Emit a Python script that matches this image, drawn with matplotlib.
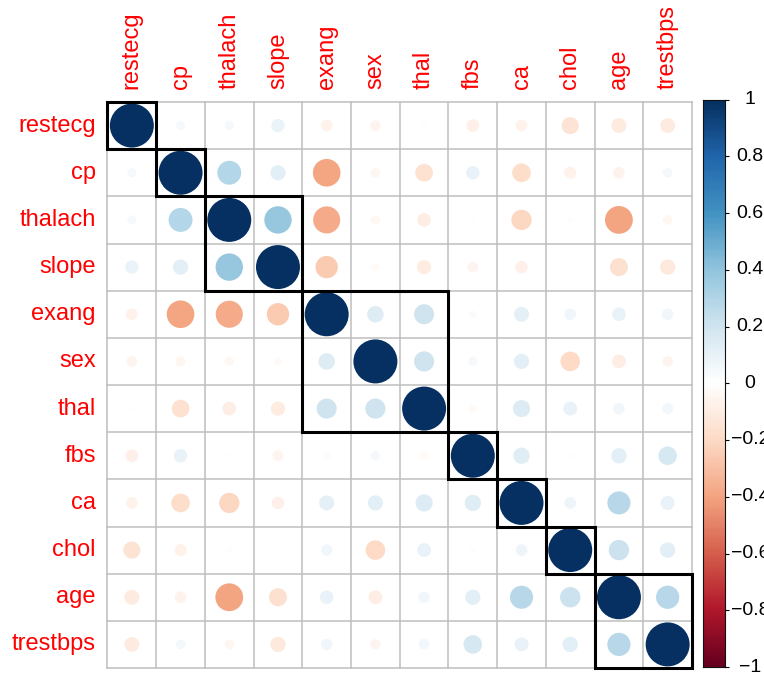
import matplotlib
matplotlib.use("Agg")
import matplotlib.pyplot as plt
import numpy as np
from matplotlib.colors import LinearSegmentedColormap, Normalize
from matplotlib.patches import Rectangle

plt.rcParams['font.family'] = ['Liberation Sans', 'DejaVu Sans']

# variables in hierarchical-clustering order
labels = ['restecg', 'cp', 'thalach', 'slope', 'exang', 'sex',
          'thal', 'fbs', 'ca', 'chol', 'age', 'trestbps']

# Pearson correlations, same order as labels
corr = [
    [1.000, 0.044, 0.044, 0.093, -0.071, -0.058, -0.012, -0.084, -0.072, -0.151, -0.116, -0.114],
    [0.044, 1.000, 0.296, 0.120, -0.394, -0.049, -0.162, 0.094, -0.181, -0.077, -0.069, 0.048],
    [0.044, 0.296, 1.000, 0.387, -0.379, -0.044, -0.096, -0.009, -0.213, -0.010, -0.399, -0.047],
    [0.093, 0.120, 0.387, 1.000, -0.258, -0.031, -0.105, -0.060, -0.080, -0.004, -0.169, -0.121],
    [-0.071, -0.394, -0.379, -0.258, 1.000, 0.142, 0.207, 0.026, 0.116, 0.067, 0.097, 0.068],
    [-0.058, -0.049, -0.044, -0.031, 0.142, 1.000, 0.210, 0.045, 0.118, -0.198, -0.098, -0.057],
    [-0.012, -0.162, -0.096, -0.105, 0.207, 0.210, 1.000, -0.032, 0.152, 0.099, 0.068, 0.062],
    [-0.084, 0.094, -0.009, -0.060, 0.026, 0.045, -0.032, 1.000, 0.138, 0.013, 0.121, 0.178],
    [-0.072, -0.181, -0.213, -0.080, 0.116, 0.118, 0.152, 0.138, 1.000, 0.071, 0.276, 0.101],
    [-0.151, -0.077, -0.010, -0.004, 0.067, -0.198, 0.099, 0.013, 0.071, 1.000, 0.214, 0.123],
    [-0.116, -0.069, -0.399, -0.169, 0.097, -0.098, 0.068, 0.121, 0.276, 0.214, 1.000, 0.279],
    [-0.114, 0.048, -0.047, -0.121, 0.068, -0.057, 0.062, 0.178, 0.101, 0.123, 0.279, 1.000],
]

# cluster sizes along the diagonal
clusters = [1, 1, 2, 3, 1, 1, 1, 2]

cbar_ticks = [1, 0.8, 0.6, 0.4, 0.2, 0, -0.2, -0.4, -0.6, -0.8, -1]

rdbu = LinearSegmentedColormap.from_list('rdbu', [
    "#67001F", "#B2182B", "#D6604D", "#F4A582", "#FDDBC7", "#FFFFFF",
    "#D1E5F0", "#92C5DE", "#4393C3", "#2166AC", "#053061"])
norm = Normalize(-1, 1)

W, H = 764, 677
fig = plt.figure(figsize=(W / 100, H / 100), dpi=100)

# matrix panel (pixel box 107.5..692 x 102..668)
x0, x1, y0, y1 = 107.5, 692.0, 102.0, 668.0
ax = fig.add_axes([x0 / W, 1 - y1 / H, (x1 - x0) / W, (y1 - y0) / H])
n = len(labels)
ax.set_xlim(0, n)
ax.set_ylim(n, 0)
ax.axis('off')

# grid
for k in range(n + 1):
    ax.plot([k, k], [0, n], color='#BEBEBE', lw=1.1, zorder=1, clip_on=False)
    ax.plot([0, n], [k, k], color='#BEBEBE', lw=1.1, zorder=1, clip_on=False)

# circles: area proportional to |r|
m = np.array(corr)
rows, cols = np.indices(m.shape)
vals = m.ravel()
ax.scatter(cols.ravel() + 0.5, rows.ravel() + 0.5, s=1003 * np.abs(vals),
           c=vals, cmap=rdbu, norm=norm, linewidths=0, zorder=2)

# cluster rectangles
start = 0
for size in clusters:
    ax.add_patch(Rectangle((start, start), size, size, fill=False,
                           edgecolor='black', lw=2.2, zorder=3, clip_on=False))
    start += size

# labels
for i, name in enumerate(labels):
    ax.text(-0.24, i + 0.5, name, color='red', fontsize=17,
            ha='right', va='center')
    ax.text(i + 0.5, -0.27, name, color='red', fontsize=17,
            ha='center', va='bottom', rotation=90)

# colour legend
cx0, cx1, cy0, cy1 = 703.0, 725.0, 99.5, 667.0
cax = fig.add_axes([cx0 / W, 1 - cy1 / H, (cx1 - cx0) / W, (cy1 - cy0) / H])
grad = np.linspace(1, -1, 200).reshape(-1, 1)
cax.imshow(grad, aspect='auto', cmap=rdbu, norm=norm, extent=[0, 1, -1, 1])
cax.set_xlim(0, 1)
cax.set_ylim(-1, 1)
cax.set_xticks([])
cax.yaxis.tick_right()
cax.set_yticks(cbar_ticks)
cax.set_yticklabels([])
cax.tick_params(axis='y', length=3, width=0.8, color='black')
for sp in cax.spines.values():
    sp.set_linewidth(0.8)
    sp.set_color('#111111')
for t in cbar_ticks:
    lab = '0' if t == 0 else ('%g' % t).replace('-', '\u2212')
    fig.text(750 / W, 1 - (cy0 + (1 - t) / 2 * (cy1 - cy0)) / H, lab,
             fontsize=14, ha='center', va='center')

fig.savefig('out.png', dpi=100)
